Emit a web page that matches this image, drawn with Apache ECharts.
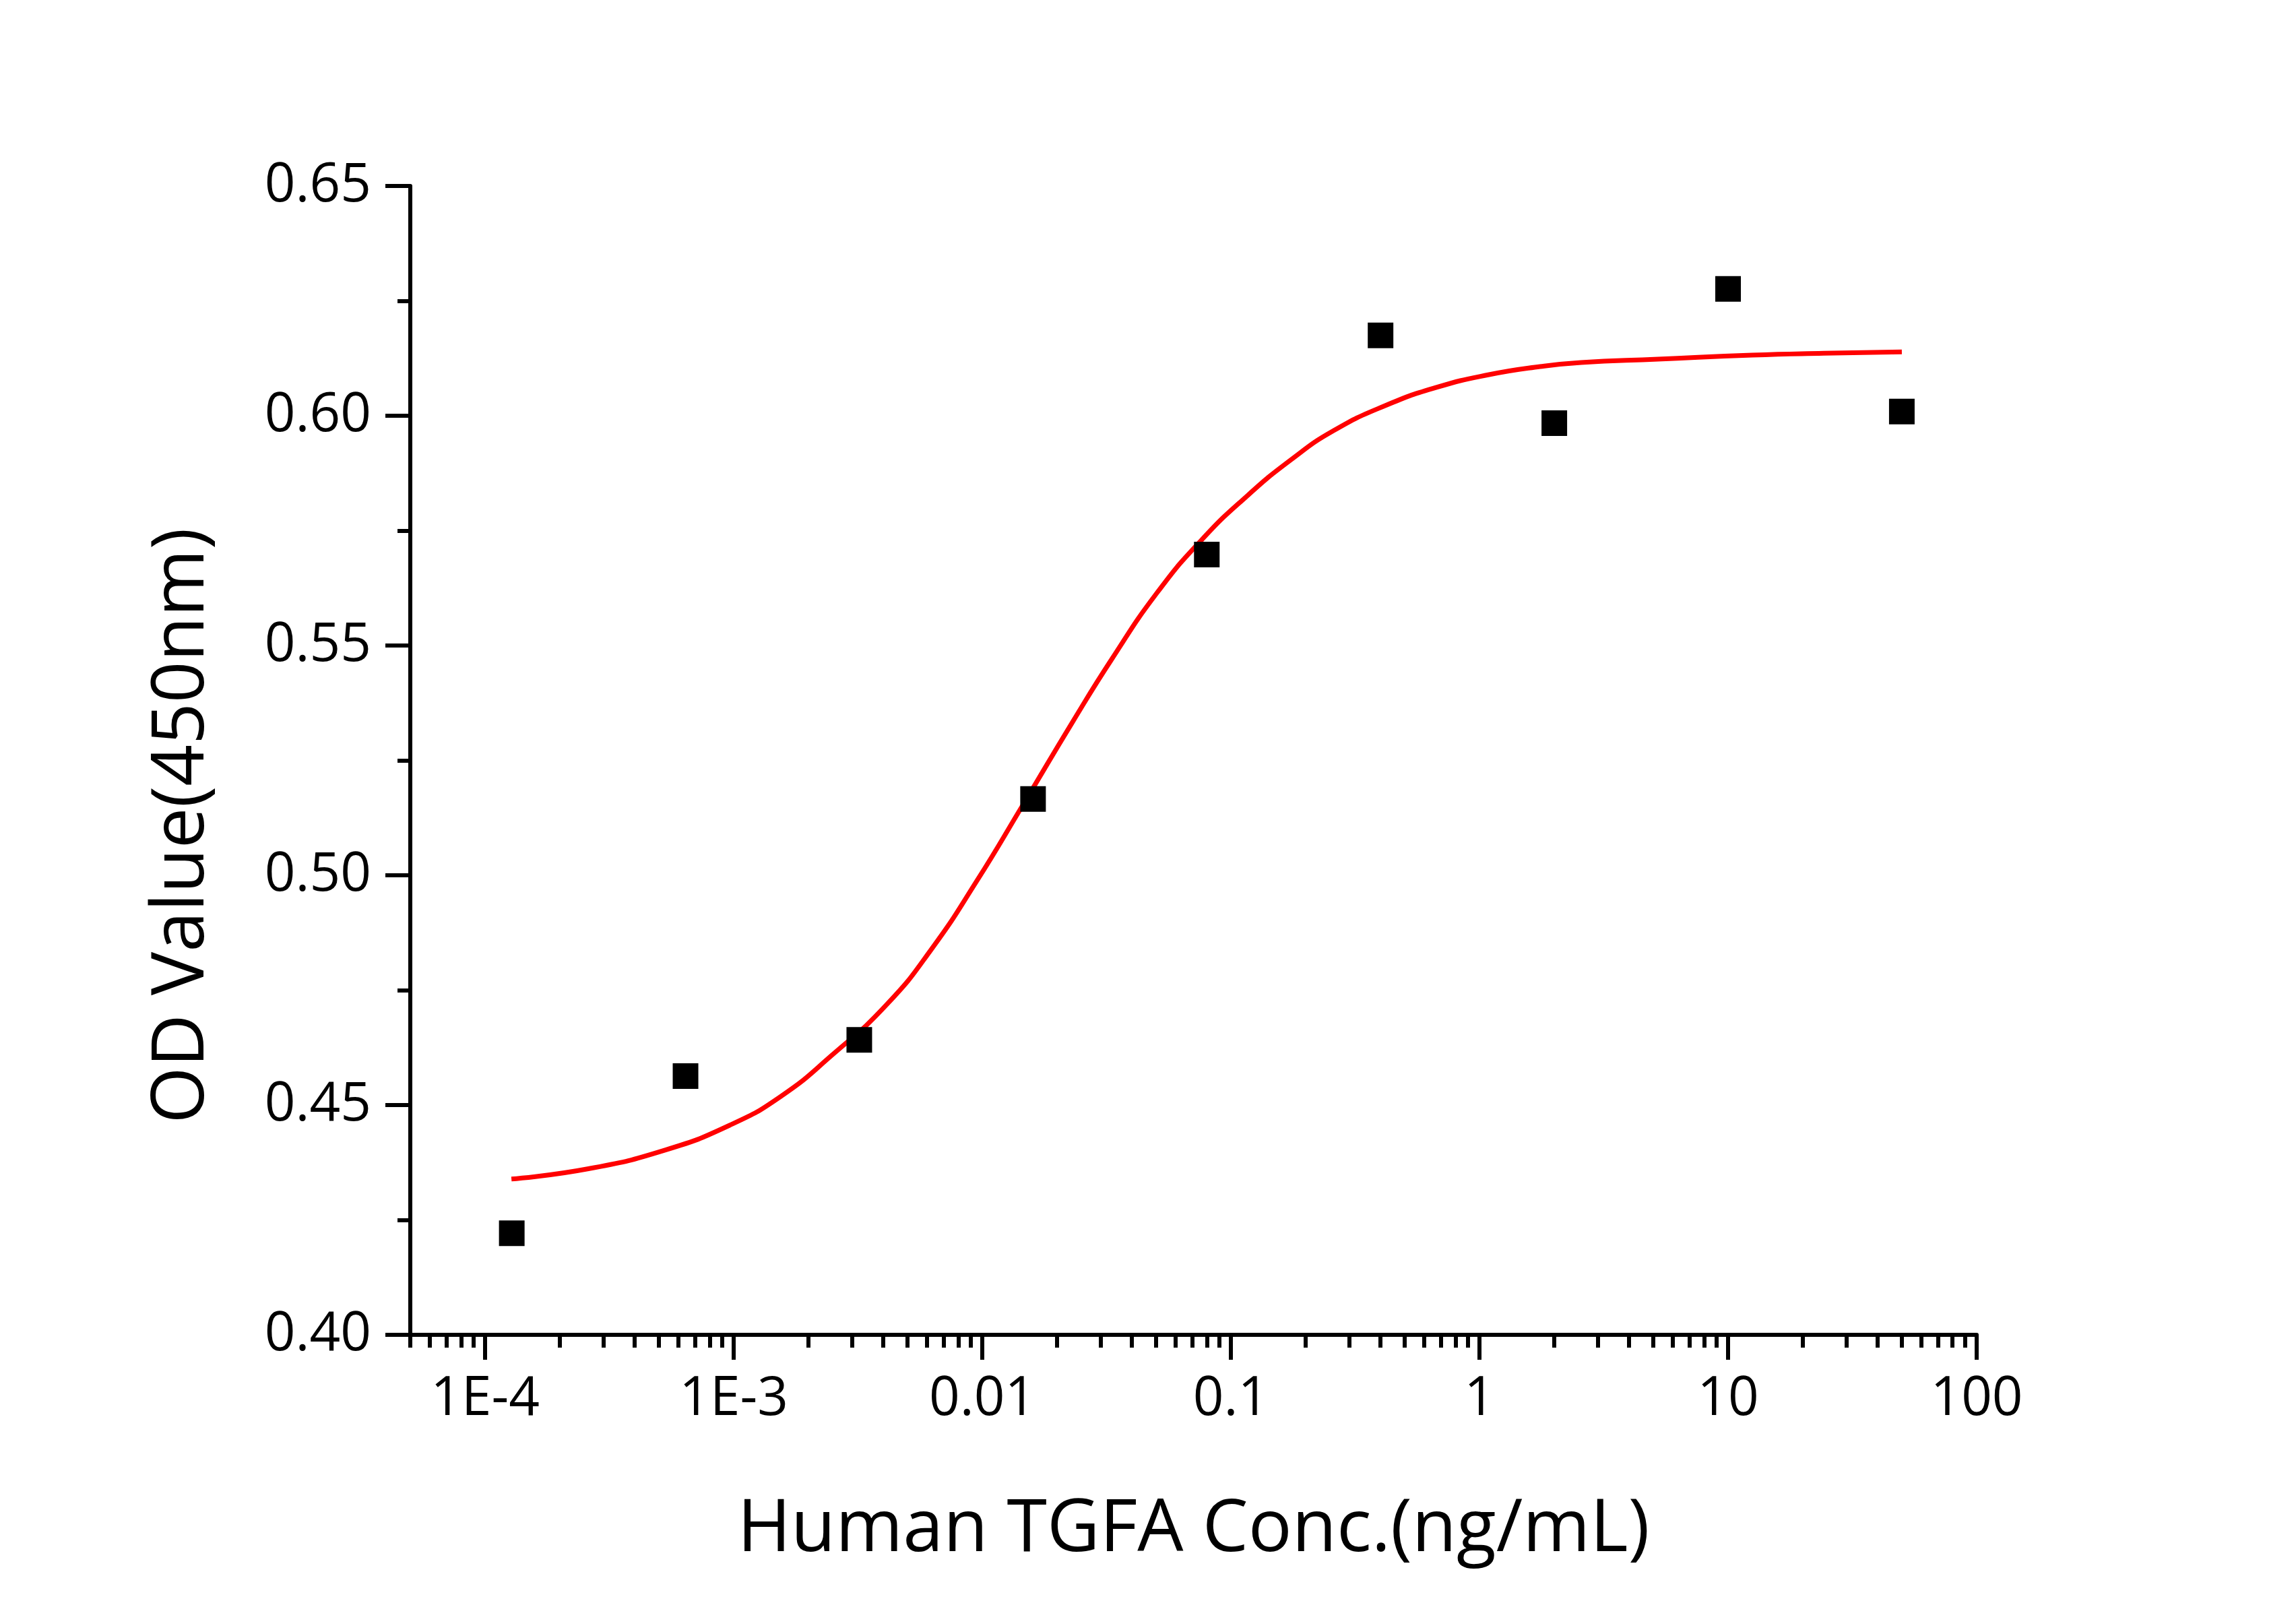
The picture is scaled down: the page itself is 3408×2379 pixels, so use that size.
<!DOCTYPE html>
<html>
<head>
<meta charset="utf-8">
<title>Human TGFA</title>
<script src="https://cdn.jsdelivr.net/npm/echarts@6/dist/echarts.min.js"></script>
<style>
    html, body { margin: 0; padding: 0; background: #fff; }
    #main { width: 3408px; height: 2379px; }
</style>
</head>
<body>
<div id="main"></div>
<script>
// measured points (ng/mL, OD450)
var concentrations = [0.000128, 0.00064, 0.0032, 0.016, 0.08, 0.4, 2, 10, 50];
var odValues = [0.4221, 0.4563, 0.4642, 0.5166, 0.5698, 0.6175, 0.5984, 0.6276, 0.6009];

// fitted curve
var fitConc = [0.0001276, 0.0002582, 0.0005292, 0.0009632, 0.001548, 0.002503, 0.004148,
    0.006261, 0.009512, 0.01445, 0.02322, 0.03314, 0.05033, 0.07601, 0.1154, 0.1753,
    0.2598, 0.4175, 0.6751, 1.084, 1.754, 2.566, 5.225, 12.52, 24.25, 50];
var fitOD = [0.4339, 0.4361, 0.4402, 0.4456, 0.4519, 0.4610, 0.4720,
    0.4840, 0.4988, 0.5150, 0.5336, 0.5470, 0.5614, 0.5729, 0.5824, 0.5905,
    0.5968, 0.6022, 0.6062, 0.6089, 0.6107, 0.6116, 0.6123, 0.6132, 0.6136, 0.6139];

var xTickValues = [0.0001, 0.001, 0.01, 0.1, 1, 10, 100];
var xTickLabels = ['1E-4', '1E-3', '0.01', '0.1', '1', '10', '100'];
var xMin = 0.00005, xMax = 100;

var font = '"Open Sans", "Noto Sans", sans-serif';

function lg(v) { return Math.log10(v); }

var majorLogs = xTickValues.map(lg);
var minorLogs = [];
for (var d = -5; d <= 1; d++) {
    for (var k = 2; k <= 9; k++) {
        var v = k * Math.pow(10, d);
        if (v >= xMin && v <= xMax) minorLogs.push(lg(v));
    }
}

var myChart = echarts.init(document.getElementById('main'));
var option = {
    backgroundColor: '#fff',
    animation: false,
    grid: { left: 609, right: 474, top: 276, bottom: 398 },
    xAxis: [
        {
            type: 'value',
            min: lg(xMin),
            max: lg(xMax),
            position: 'bottom',
            name: 'Human TGFA Conc.(ng/mL)',
            nameLocation: 'middle',
            nameGap: 236,
            nameTextStyle: { fontFamily: font, fontSize: 108, color: '#000' },
            axisLine: { show: true, onZero: false, lineStyle: { color: '#000', width: 6 } },
            axisTick: { show: true, inside: false, length: 37, customValues: majorLogs,
                lineStyle: { color: '#000', width: 6 } },
            axisLabel: {
                customValues: majorLogs,
                margin: 56,
                fontFamily: font, fontSize: 80, color: '#000',
                formatter: function (val) {
                    for (var i = 0; i < majorLogs.length; i++) {
                        if (Math.abs(majorLogs[i] - val) < 1e-6) return xTickLabels[i];
                    }
                    return '';
                }
            },
            splitLine: { show: false }
        },
        {
            // minor log ticks only
            type: 'value',
            min: lg(xMin),
            max: lg(xMax),
            position: 'bottom',
            axisLine: { show: false, onZero: false },
            axisTick: { show: true, inside: false, length: 19, customValues: minorLogs,
                lineStyle: { color: '#000', width: 6 } },
            axisLabel: { show: false },
            splitLine: { show: false }
        }
    ],
    yAxis: {
        type: 'value',
        min: 0.40,
        max: 0.65,
        interval: 0.05,
        name: 'OD Value(450nm)',
        nameLocation: 'middle',
        nameGap: 284,
        nameTextStyle: { fontFamily: font, fontSize: 108, color: '#000', padding: [0, 194, 0, 0] },
        axisLine: { show: true, onZero: false, lineStyle: { color: '#000', width: 6 } },
        axisTick: { show: true, inside: false, length: 37, lineStyle: { color: '#000', width: 6 } },
        minorTick: { show: true, splitNumber: 2, length: 19, lineStyle: { color: '#000', width: 6 } },
        axisLabel: {
            margin: 58,
            fontFamily: font, fontSize: 80, color: '#000',
            formatter: function (v) { return v.toFixed(2); }
        },
        splitLine: { show: false }
    },
    series: [
        {
            name: 'fit',
            type: 'line',
            xAxisIndex: 0,
            data: fitConc.map(function (c, i) { return [lg(c), fitOD[i]]; }),
            smooth: 0.5,
            showSymbol: false,
            lineStyle: { color: '#ff0000', width: 7 },
            z: 2
        },
        {
            name: 'OD',
            type: 'scatter',
            xAxisIndex: 0,
            data: concentrations.map(function (c, i) { return [lg(c), odValues[i]]; }),
            symbol: 'rect',
            symbolSize: 38,
            itemStyle: { color: '#000', opacity: 1 },
            z: 3
        }
    ]
};
myChart.setOption(option);
</script>
</body>
</html>
